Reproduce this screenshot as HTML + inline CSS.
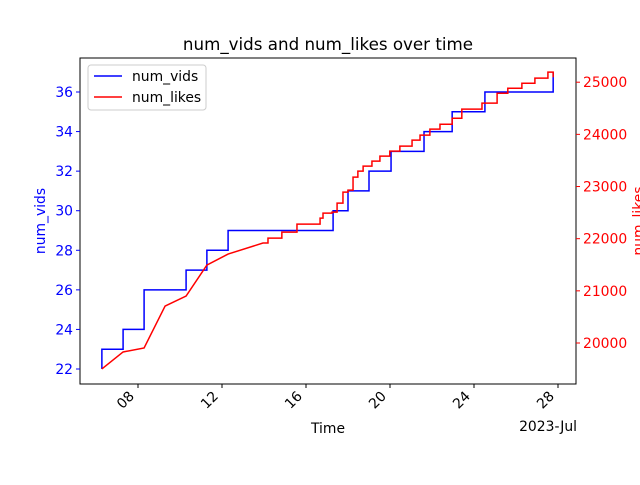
<!DOCTYPE html>
<html><head><meta charset="utf-8"><style>body{margin:0;background:#fff}svg{font-family:"DejaVu Sans","Liberation Sans",sans-serif}</style></head>
<body>
<svg id="c" width="640" height="480" xmlns="http://www.w3.org/2000/svg"></svg>
<script>
const vidDays=[6.28,7.29,8.29,10.29,11.28,12.29,17.29,18.00,19.00,20.05,21.62,22.96,24.52,27.77];
const vidVals=[23,24,26,27,28,29,30,31,32,33,34,35,36,37];
const likeDays=[6.28,7.29,8.29,9.29,10.29,11.28,12.29,13.95,14.19,14.85,15.57,16.67,16.81,17.24,17.48,17.76,18.00,18.24,18.47,18.72,19.14,19.52,19.99,20.47,21.05,21.43,21.90,22.38,22.96,23.42,24.38,25.10,25.61,26.28,26.90,27.52,27.77];
const likeVals=[19502,19828,19904,20709,20900,21494,21705,21916,22011,22126,22280,22395,22490,22510,22682,22893,22931,23180,23295,23391,23487,23582,23678,23774,23889,23985,24100,24195,24310,24483,24598,24789,24885,24981,25077,25192,25096];
const xTicks=[8,12,16,20,24,28];
const xTickLabels=["08","12","16","20","24","28"];
const yTicks=[22,24,26,28,30,32,34,36];
const y2Ticks=[20000,21000,22000,23000,24000,25000];
const NS="http://www.w3.org/2000/svg",svg=document.getElementById('c');
const L=80,R=576,T=58,B=384;
const xs=d=>138+(d-8)*21, ys=v=>369-(v-22)*19.786, ys2=v=>343-(v-20000)*0.05216;
function el(t,a,txt){const e=document.createElementNS(NS,t);for(const k in a)e.setAttribute(k,a[k]);if(txt!==undefined)e.textContent=txt;svg.appendChild(e);return e;}
let p=`M${xs(vidDays[0])},${ys(22)}`;
vidDays.forEach((d,i)=>{p+=` L${xs(d)},${ys(i?vidVals[i-1]:22)} L${xs(d)},${ys(vidVals[i])}`;});
let e=el('path',{d:p,fill:'none',stroke:'#0000ff','stroke-width':1.5});

let q='';
likeDays.forEach((d,i)=>{const x=xs(d),y=ys2(likeVals[i]);
 if(i===0)q=`M${x},${y}`;else if(i>=8){q+=` L${x},${ys2(likeVals[i-1])} L${x},${y}`;}else q+=` L${x},${y}`;});
e=el('path',{d:q,fill:'none',stroke:'#ff0000','stroke-width':1.5});

e=el('rect',{x:L,y:T,width:R-L,height:B-T,fill:'none',stroke:'#000','stroke-width':1});

xTicks.forEach((d,i)=>{const x=xs(d);el('line',{x1:x,y1:B,x2:x,y2:B+4,stroke:'#000'});
 const t=el('text',{x:x-3,y:B+13,'font-size':13.9,'text-anchor':'end',transform:`rotate(-45 ${x-3} ${B+13})`},xTickLabels[i]);
 });
yTicks.forEach(v=>{const y=ys(v);el('line',{x1:L-4,y1:y,x2:L,y2:y,stroke:'#0000ff'});
 const t=el('text',{x:L-7,y:y+5,'font-size':13.9,'text-anchor':'end',fill:'#0000ff'},v);
 });
y2Ticks.forEach(v=>{const y=ys2(v);el('line',{x1:R,y1:y,x2:R+4,y2:y,stroke:'#ff0000'});
 const t=el('text',{x:R+7,y:y+5,'font-size':13.9,fill:'#ff0000'},v);
 });
</script>
<svg width="640" height="480" style="position:absolute;left:0;top:0" font-family="DejaVu Sans, Liberation Sans, sans-serif">
<text x="328" y="50" font-size="16.7" text-anchor="middle">num_vids and num_likes over time</text>
<text x="328" y="433" font-size="13.9" text-anchor="middle">Time</text>
<text x="577" y="431" font-size="13.9" text-anchor="end">2023-Jul</text>
<text x="45" y="221" font-size="13.9" text-anchor="middle" fill="#0000ff" transform="rotate(-90 45 221)">num_vids</text>
<text x="643" y="221" font-size="13.9" text-anchor="middle" fill="#ff0000" transform="rotate(-90 643 221)">num_likes</text>
<g>
<rect x="88" y="65" width="118" height="45" rx="3" fill="#fff" fill-opacity="0.8" stroke="#ccc"/>
<line x1="94" y1="76" x2="122" y2="76" stroke="#0000ff" stroke-width="1.5"/>
<text x="132" y="81" font-size="13.9">num_vids</text>
<line x1="94" y1="97" x2="122" y2="97" stroke="#ff0000" stroke-width="1.5"/>
<text x="132" y="102" font-size="13.9">num_likes</text>
</g>
</svg>
</body></html>
